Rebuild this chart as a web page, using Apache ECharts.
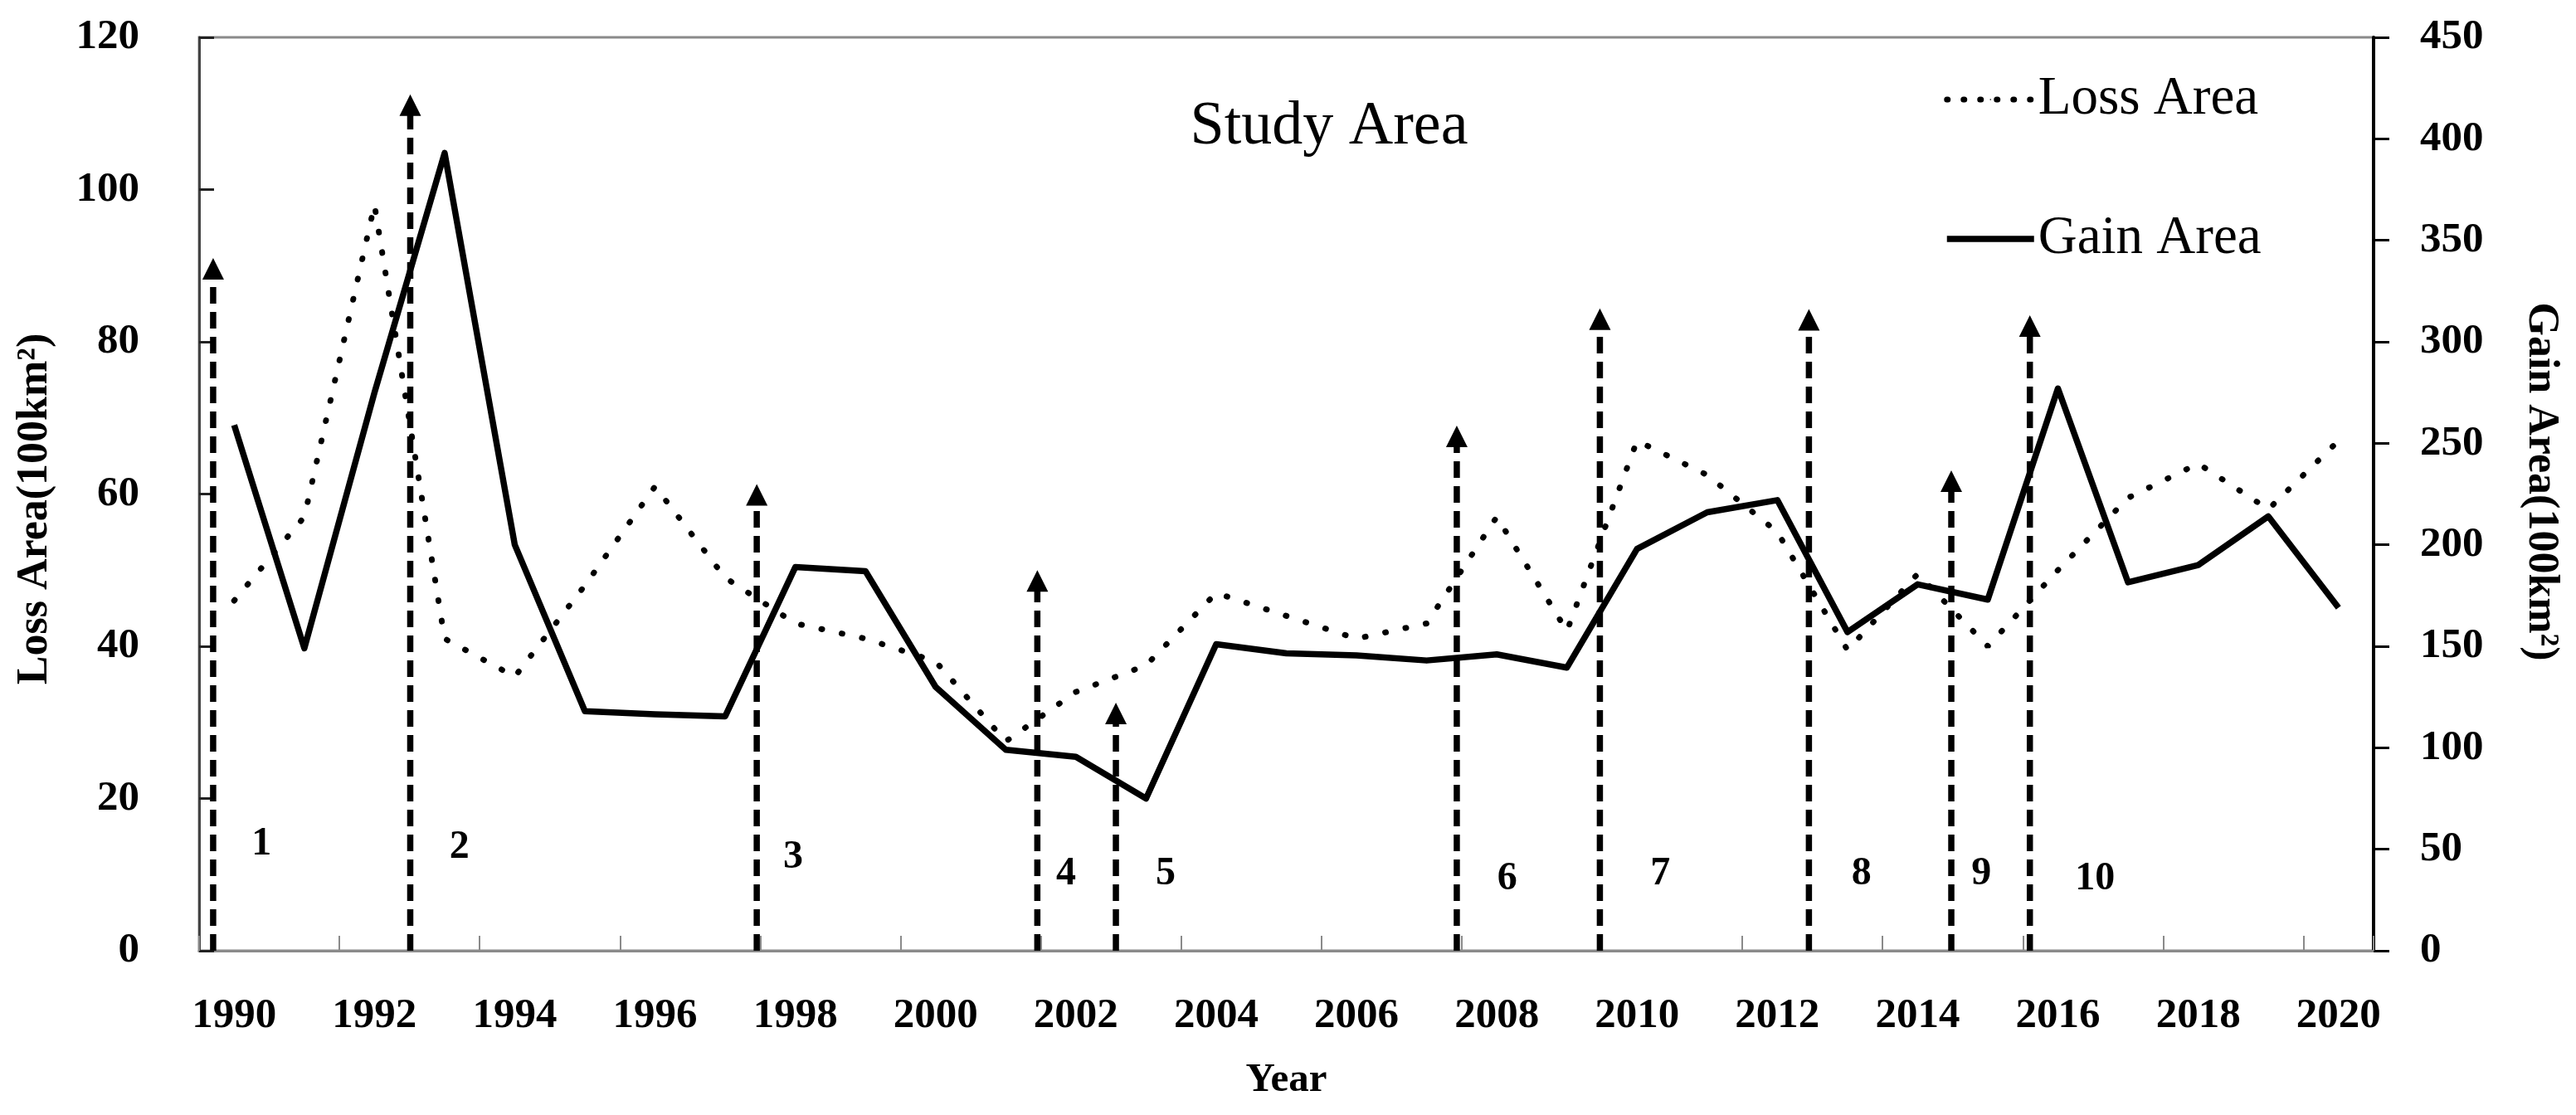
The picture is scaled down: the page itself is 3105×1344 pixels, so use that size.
<!DOCTYPE html>
<html>
<head>
<meta charset="utf-8">
<script src="https://cdn.jsdelivr.net/npm/echarts/dist/echarts.min.js"></script>
<style>
html,body{margin:0;padding:0;background:#fff;}
#chart{width:3105px;height:1344px;}
</style>
</head>
<body>
<div id="chart"></div>
<script>
// ---- data ----
var years = ['1990','1991','1992','1993','1994','1995','1996','1997','1998','1999','2000','2001','2002','2003','2004','2005','2006','2007','2008','2009','2010','2011','2012','2013','2014','2015','2016','2017','2018','2019','2020'];
var lossArea = [46,57,98,41,36,48,61,49,43,41,38,27.5,34,37.5,47,44,41,43,57,42,67,62.5,55,39.5,49.5,40,50,59.5,64,58,67];
var gainArea = [259,149,275,393,200,118,116.5,115.5,189,187,130,99,95.5,75,151,146.5,145.5,143,146,139.5,198,216,222,157,180.5,173,277,181.5,190,214,169];
var leftTicks = [0,20,40,60,80,100,120];
var rightTicks = [0,50,100,150,200,250,300,350,400,450];
// event arrows (x in years, arrow tip in Loss-axis units)
var eventYears = [1989.70,1992.51,1997.45,2001.45,2002.57,2007.43,2009.47,2012.45,2014.48,2015.60];
var eventTops = [91,112.5,61.3,50,32.6,69,84.4,84.3,63.1,83.5];
var eventLabels = ['1','2','3','4','5','6','7','8','9','10'];
var eventLabelYears = [1990.39,1993.21,1997.97,2001.86,2003.28,2008.15,2010.33,2013.20,2014.91,2016.53];
var eventLabelValues = [14.0,13.6,12.2,10.1,10.1,9.4,10.1,10.1,10.1,9.4];

var SERIF = '"Liberation Serif","Times New Roman",serif';

var arrowData = eventYears.map(function(y,i){return [y, eventTops[i]];});
var labelData = eventLabels.map(function(t,i){return [eventLabelYears[i], eventLabelValues[i], t];});

var chart = echarts.init(document.getElementById('chart'), null, {renderer:'canvas'});
chart.setOption({
  animation:false,
  backgroundColor:'#fff',
  title:{
    text:'Study Area',
    left:1597, top:112, textAlign:'center',
    textStyle:{fontFamily:SERIF, fontSize:74, fontWeight:'normal', color:'#000'}
  },
  legend:{
    orient:'vertical',
    left:2338, top:82,
    itemWidth:105, itemHeight:2, itemGap:102,
    textStyle:{fontFamily:SERIF, fontSize:65, color:'#000', lineHeight:66},
    data:[
      {name:'Loss Area', lineStyle:{color:'#000', width:7, type:[1,19], cap:'round'}},
      {name:'Gain Area', lineStyle:{color:'#000', width:7.5, type:'solid'}}
    ]
  },
  grid:{left:240, right:244, top:45, bottom:198, show:true, borderColor:'#8a8a8a', borderWidth:3, outerBoundsMode:'none'},
  xAxis:[{
    type:'category', data:years, boundaryGap:true,
    name:'Year', nameLocation:'middle', nameGap:132, nameMoveOverlap:false,
    nameTextStyle:{fontFamily:SERIF, fontSize:49, fontWeight:'bold', color:'#000'},
    axisLine:{lineStyle:{color:'#8a8a8a', width:3}},
    axisTick:{show:true, interval:1, inside:true, length:18, lineStyle:{color:'#8a8a8a', width:2}},
    axisLabel:{interval:1, margin:53, fontFamily:SERIF, fontSize:51, fontWeight:'bold', color:'#000'},
    splitLine:{show:false}
  },{
    type:'value', min:1989.5, max:2020.5, show:false
  }],
  yAxis:[{
    type:'value', min:leftTicks[0], max:leftTicks[leftTicks.length-1], interval:leftTicks[1]-leftTicks[0],
    position:'left',
    name:'Loss Area(100km²)', nameLocation:'middle', nameRotate:90, nameGap:171, nameMoveOverlap:false,
    nameTextStyle:{fontFamily:SERIF, fontSize:52, fontWeight:'bold', color:'#000', padding:[0,36,0,0]},
    axisLine:{show:true, lineStyle:{color:'#444', width:3}},
    axisTick:{show:true, inside:true, length:18, lineStyle:{color:'#222', width:3}},
    axisLabel:{margin:72, fontFamily:SERIF, fontSize:51, fontWeight:'bold', color:'#000'},
    splitLine:{show:false}
  },{
    type:'value', min:rightTicks[0], max:rightTicks[rightTicks.length-1], interval:rightTicks[1]-rightTicks[0],
    position:'right',
    name:'Gain Area(100km²)', nameLocation:'middle', nameRotate:-90, nameGap:175, nameMoveOverlap:false,
    nameTextStyle:{fontFamily:SERIF, fontSize:52, fontWeight:'bold', color:'#000', padding:[0,30,0,0]},
    axisLine:{show:true, lineStyle:{color:'#000', width:4}},
    axisTick:{show:true, inside:false, length:19, lineStyle:{color:'#000', width:3}},
    axisLabel:{margin:56, fontFamily:SERIF, fontSize:51, fontWeight:'bold', color:'#000'},
    splitLine:{show:false}
  }],
  series:[{
    name:'Loss Area', type:'line', xAxisIndex:0, yAxisIndex:0, data:lossArea,
    symbol:'none', z:3, itemStyle:{color:'#000'},
    lineStyle:{color:'#000', width:7, type:[1,24], cap:'round'}
  },{
    name:'Gain Area', type:'line', xAxisIndex:0, yAxisIndex:1, data:gainArea,
    symbol:'none', z:4, itemStyle:{color:'#000'},
    lineStyle:{color:'#000', width:7.5, join:'round'}
  },{
    name:'events', type:'custom', xAxisIndex:1, yAxisIndex:0, data:arrowData, z:5,
    renderItem:function(params, api){
      var x = api.value(0), top = api.value(1);
      var base = api.coord([x, 0]);
      var tip = api.coord([x, top]);
      var headH = 26, headW = 13;
      return {type:'group', children:[
        {type:'line', shape:{x1:base[0], y1:base[1], x2:tip[0], y2:tip[1]+headH-2},
         style:{stroke:'#000', lineWidth:7.5, lineDash:[20,10], fill:null}},
        {type:'polygon', shape:{points:[[tip[0],tip[1]],[tip[0]-headW,tip[1]+headH],[tip[0]+headW,tip[1]+headH]]},
         style:{fill:'#000', stroke:null}}
      ]};
    }
  },{
    name:'eventLabels', type:'custom', xAxisIndex:1, yAxisIndex:0, data:labelData, z:6,
    renderItem:function(params, api){
      var p = api.coord([api.value(0), api.value(1)]);
      return {type:'text', x:p[0], y:p[1],
        style:{text:String(labelData[params.dataIndex][2]), fill:'#000', align:'center', verticalAlign:'middle',
               font:'bold 48px "Liberation Serif", serif'}};
    }
  }]
});
</script>
</body>
</html>
